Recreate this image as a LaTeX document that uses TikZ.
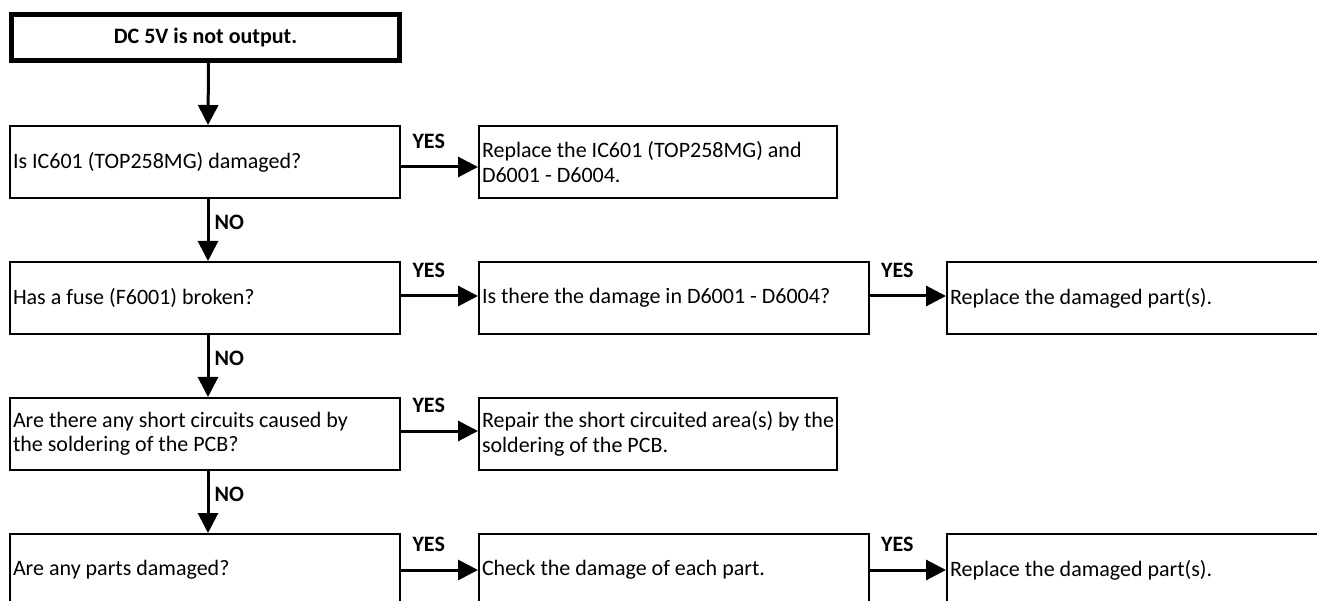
\documentclass[tikz,border=0pt]{standalone}
\usepackage{fontspec}
\setmainfont{Carlito}
\usetikzlibrary{positioning,arrows.meta}

\begin{document}
\begin{tikzpicture}[x=1pt, y=-1pt, font=\fontsize{22}{24.5}\selectfont,
  box/.style={draw, line width=2pt, text width=#1, inner xsep=3pt, minimum height=72pt, align=flush left},
  box/.default=384pt,
  startbox/.style={draw, line width=5pt, minimum width=388pt, minimum height=46pt, font=\fontsize{22}{24.5}\selectfont\bfseries},
  flow/.style={-{Triangle[length=20pt,width=20pt]}, line width=3pt},
  yes/.style={above=17pt, inner sep=0pt, pos=0.36, font=\fontsize{22}{24.5}\selectfont\bfseries},
  no/.style={right=5pt, inner sep=0pt, pos=0.37, font=\fontsize{22}{24.5}\selectfont\bfseries}]
  \useasboundingbox (0,0) rectangle (1317,601);
  \fill[white] (0,0) rectangle (1317,601);
  \clip (0,0) rectangle (1317,601);

  \node[startbox] (start) at (205.5,37.5) {DC 5V is not output.};

  % questions, left column
  \node[box] (icq)    at (205,162) {Is IC601 (TOP258MG) damaged?};
  \node[box] (fuseq)  at (205,298) {Has a fuse (F6001) broken?};
  \node[box] (shortq) at (205,434) {Are there any short circuits caused by\\the soldering of the PCB?};
  \node[box] (partq)  at (205,570) {Are any parts damaged?};

  % answers
  \node[box=352pt] (icfix)    at (658,162) {Replace the IC601 (TOP258MG) and\\D6001 - D6004.};
  \node[box]       (diodeq)   at (674,298) {Is there the damage in D6001 - D6004?};
  \node[box]       (diodefix) at (1142,298) {Replace the damaged part(s).};
  \node[box=352pt] (shortfix) at (658,434) {Repair the short circuited area(s) by the\\soldering of the PCB.};
  \node[box]       (partchk)  at (674,570) {Check the damage of each part.};
  \node[box]       (partfix)  at (1142,570) {Replace the damaged part(s).};

  \draw[flow] ([xshift=3pt]start.south) -- ([xshift=3pt]icq.north);
  \draw[flow] ([xshift=3pt]icq.south) -- node[no] {NO} ([xshift=3pt]fuseq.north);
  \draw[flow] ([xshift=3pt]fuseq.south) -- node[no] {NO} ([xshift=3pt]shortq.north);
  \draw[flow] ([xshift=3pt]shortq.south) -- node[no] {NO} ([xshift=3pt]partq.north);

  \draw[flow] ([yshift=-5pt]icq.east) -- node[yes] {YES} ([yshift=-5pt]icfix.west);
  \draw[flow] ([yshift=2pt]fuseq.east) -- node[yes] {YES} ([yshift=2pt]diodeq.west);
  \draw[flow] ([yshift=2pt]diodeq.east) -- node[yes] {YES} ([yshift=2pt]diodefix.west);
  \draw[flow] ([yshift=3pt]shortq.east) -- node[yes] {YES} ([yshift=3pt]shortfix.west);
  \draw[flow] (partq.east) -- node[yes] {YES} (partchk.west);
  \draw[flow] (partchk.east) -- node[yes] {YES} (partfix.west);
\end{tikzpicture}
\end{document}
